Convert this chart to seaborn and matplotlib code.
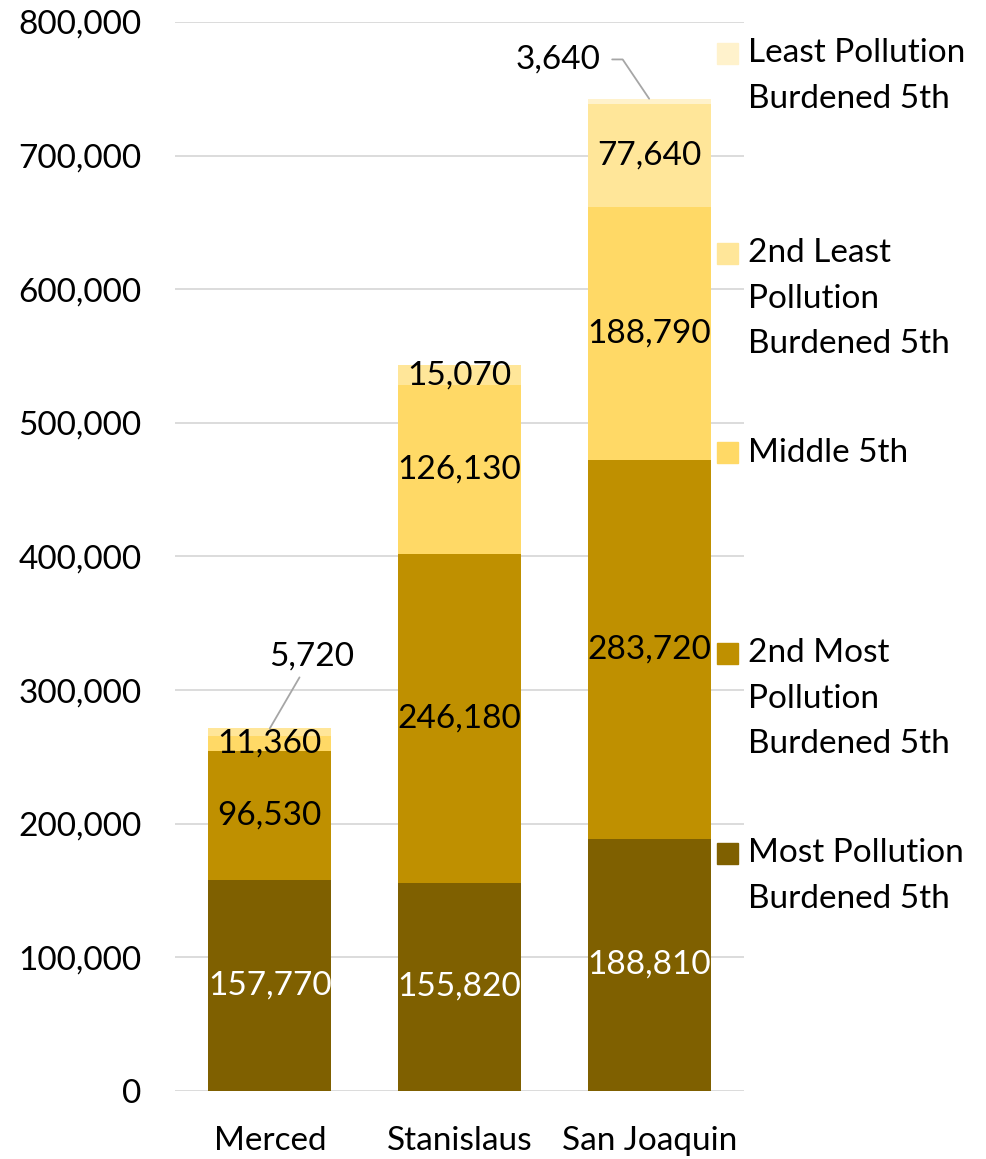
import matplotlib
matplotlib.use('Agg')
import matplotlib.pyplot as plt
import numpy as np
import seaborn as sns

counties = ['Merced', 'Stanislaus', 'San Joaquin']
most = [157770, 155820, 188810]
second_most = [96530, 246180, 283720]
middle = [11360, 126130, 188790]
second_least = [5720, 15070, 77640]
least = [0, 0, 3640]

series_names = ['Most Pollution\nBurdened 5th', '2nd Most\nPollution\nBurdened 5th', 'Middle 5th',
                '2nd Least\nPollution\nBurdened 5th', 'Least Pollution\nBurdened 5th']
colors = ['#7F6000', '#BF9000', '#FFD966', '#FFE699', '#FFF2CC']
y_ticks = [0, 100000, 200000, 300000, 400000, 500000, 600000, 700000, 800000]

sns.set_theme(style='white')
plt.rcParams['font.family'] = ['Lato', 'DejaVu Sans']
fs = 24

fig = plt.figure(figsize=(9.87, 11.59), dpi=100)
ax = fig.add_axes([0.1773, 0.0587, 0.5765, 0.9223])

layers = np.array([most, second_most, middle, second_least, least])
cum = np.cumsum(layers, axis=0)

# stacked bars: draw cumulative totals from the top layer down
for i in range(len(layers) - 1, -1, -1):
    sns.barplot(x=counties, y=cum[i], color=colors[i], width=0.65, saturation=1,
                linewidth=0, errorbar=None, ax=ax, zorder=2)

ax.set_ylim(0, 800000)
ax.set_xlim(-0.5, 2.5)
ax.set_yticks(y_ticks)
ax.set_yticklabels([f'{v:,}' for v in y_ticks])
ax.yaxis.grid(True, color='#D9D9D9', linewidth=1.3)
ax.set_axisbelow(True)
for s in ax.spines.values():
    s.set_visible(False)
ax.tick_params(axis='y', length=0, pad=24, labelsize=fs, labelcolor='black')
ax.tick_params(axis='x', length=0, pad=25, labelsize=fs, labelcolor='black')
ax.set_xlabel('')
ax.set_ylabel('')

# data labels
callouts = {(3, 0): (0.22, 325000), (4, 2): (1.52, 772000)}
for i in range(len(layers)):
    for j in range(len(counties)):
        v = layers[i][j]
        if v == 0:
            continue
        if (i, j) in callouts:
            continue
        ax.text(j, cum[i][j] - v / 2, f'{v:,}', ha='center', va='center', fontsize=fs,
                color='white' if i == 0 else 'black', zorder=3)

ax.annotate(f'{second_least[0]:,}', xy=(0, cum[3][0]), xytext=callouts[(3, 0)],
            ha='center', va='center', fontsize=fs, color='black',
            arrowprops=dict(arrowstyle='-', color='#A6A6A6', lw=1.3, shrinkA=2, shrinkB=0))
ax.annotate(f'{least[2]:,}', xy=(2, cum[4][2]), xytext=callouts[(4, 2)],
            ha='center', va='center', fontsize=fs, color='black',
            arrowprops=dict(arrowstyle='-', color='#A6A6A6', lw=1.3, shrinkA=6, shrinkB=0,
                            relpos=(1, 0.5),
                            connectionstyle='angle,angleA=0,angleB=124,rad=0'))

# legend, Excel style: entries every 200 px down the right side
W, H = 987, 1159
for k, i in enumerate(range(len(layers) - 1, -1, -1)):
    y0 = 53 + k * 200
    fig.patches.append(plt.Rectangle((717 / W, 1 - (y0 + 10.5) / H), 21 / W, 21 / H,
                                     transform=fig.transFigure, color=colors[i]))
    for n, line in enumerate(series_names[i].split('\n')):
        fig.text(748 / W, 1 - (y0 + n * 45.5) / H, line, ha='left', va='center',
                 fontsize=fs, color='black')

fig.savefig('out.png', dpi=100)
